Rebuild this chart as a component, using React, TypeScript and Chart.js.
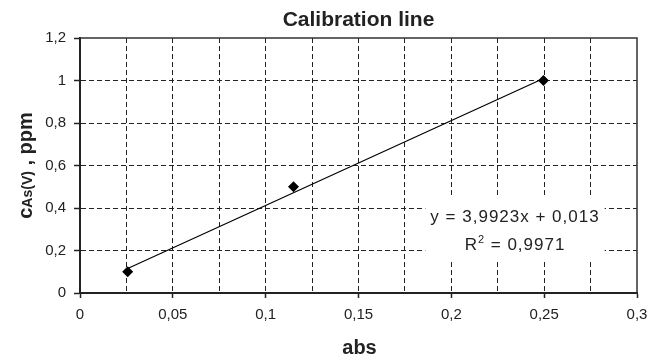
import React, { useEffect, useRef } from 'react';
import { Chart, registerables } from 'chart.js';

Chart.register(...registerables);

// ---- data ----
const absValues = [0.0257, 0.115, 0.2496];
const concValues = [0.1, 0.5, 1.0];
const trendSlope = 3.9923;
const trendIntercept = 0.013;
const trendR2 = 0.9971;
const xRange = [0, 0.3];
const xStep = 0.025;
const yRange = [0, 1.2];
const yStep = 0.2;
const chartTitle = 'Calibration line';
const xTitle = 'abs';
const yTitleParts = ['c', 'As(V)', ' , ppm'];

const FONT = '"Liberation Sans", Arial, Helvetica, sans-serif';
const INK = '#222';
const CLEAR = 'rgba(0,0,0,0)';

const fmt = (v: number, d = 3) => String(parseFloat(v.toFixed(d))).replace('.', ',');

const trendX = [Math.min(...absValues), Math.max(...absValues)];
const trendY = trendX.map((x) => trendSlope * x + trendIntercept);

const eqLine1 = `y = ${fmt(trendSlope, 4)}x + ${fmt(trendIntercept, 4)}`;
const eqLine2Pre = 'R';
const eqLine2Sup = '2';
const eqLine2Post = ` = ${fmt(trendR2, 4)}`;

const decorPlugin = {
  id: 'decor',
  beforeDatasetsDraw(chart: any) {
    const { ctx, chartArea: a, scales } = chart;
    const xs = scales.x;
    const ys = scales.y;
    ctx.save();
    // top & right frame
    ctx.strokeStyle = '#333';
    ctx.lineWidth = 1.5;
    ctx.beginPath();
    ctx.moveTo(a.left, a.top);
    ctx.lineTo(a.right, a.top);
    ctx.lineTo(a.right, a.bottom);
    ctx.stroke();

    // trendline equation label
    const cx = xs.getPixelForValue(0.2343);
    const b1 = ys.getPixelForValue(0.3355);
    const b2 = b1 + 28.3;
    ctx.font = `17px ${FONT}`;
    (ctx as any).letterSpacing = '1px';
    const w1 = ctx.measureText(eqLine1).width;
    const wPre = ctx.measureText(eqLine2Pre).width;
    const wPost = ctx.measureText(eqLine2Post).width;
    ctx.font = `11px ${FONT}`;
    const wSup = ctx.measureText(eqLine2Sup).width;
    const w2 = wPre + wSup + wPost;

    ctx.fillStyle = '#fff';
    const bw = w1 + 10;
    ctx.fillRect(cx - bw / 2, b1 - 24, bw, b2 - b1 + 36);

    ctx.fillStyle = INK;
    ctx.textBaseline = 'alphabetic';
    ctx.textAlign = 'left';
    ctx.font = `17px ${FONT}`;
    ctx.fillText(eqLine1, cx - w1 / 2, b1);
    let px = cx - w2 / 2;
    ctx.fillText(eqLine2Pre, px, b2);
    px += wPre;
    ctx.font = `11px ${FONT}`;
    ctx.fillText(eqLine2Sup, px, b2 - 7);
    px += wSup;
    ctx.font = `17px ${FONT}`;
    ctx.fillText(eqLine2Post, px, b2);
    (ctx as any).letterSpacing = '0px';
    ctx.restore();
  },
  afterDraw(chart: any) {
    const { ctx, chartArea: a } = chart;
    ctx.save();
    ctx.fillStyle = INK;
    ctx.textBaseline = 'alphabetic';
    // x-axis title
    ctx.font = `bold 20px ${FONT}`;
    ctx.textAlign = 'center';
    ctx.fillText(xTitle, (a.left + a.right) / 2 + 1, 354);

    // y-axis title (rotated, with smaller "As(V)")
    const fonts = [`bold 20px ${FONT}`, `bold 14px ${FONT}`, `bold 20px ${FONT}`];
    const widths = yTitleParts.map((t, i) => {
      ctx.font = fonts[i];
      return ctx.measureText(t).width;
    });
    const total = widths.reduce((s, w) => s + w, 0);
    ctx.translate(32, (a.top + a.bottom) / 2);
    ctx.rotate(-Math.PI / 2);
    ctx.textAlign = 'left';
    let x = -total / 2;
    yTitleParts.forEach((t, i) => {
      ctx.font = fonts[i];
      ctx.fillText(t, x, 0);
      x += widths[i];
    });
    ctx.restore();
  },
};

export default function App() {
  const canvasRef = useRef<HTMLCanvasElement | null>(null);

  useEffect(() => {
    document.body.style.margin = '0';
    const canvas = canvasRef.current;
    if (!canvas) return;
    const chart = new Chart(canvas, {
      type: 'scatter',
      data: {
        datasets: [
          {
            label: 'trend',
            type: 'line',
            data: trendX.map((x, i) => ({ x, y: trendY[i] })),
            borderColor: '#000',
            borderWidth: 1.2,
            pointRadius: 0,
            fill: false,
          } as any,
          {
            label: 'points',
            data: absValues.map((x, i) => ({ x, y: concValues[i] })),
            pointStyle: 'rectRot',
            pointRadius: 5.5,
            backgroundColor: '#000',
            borderColor: '#000',
            borderWidth: 0,
            showLine: false,
          },
        ],
      },
      options: {
        responsive: false,
        animation: false,
        devicePixelRatio: 1,
        layout: { padding: { left: 0, right: 21, top: 0, bottom: 0 } },
        plugins: {
          legend: { display: false },
          tooltip: { enabled: false },
          title: {
            display: true,
            text: chartTitle,
            fullSize: false,
            color: INK,
            font: { family: FONT, size: 21, weight: 'bold', lineHeight: 1.2 },
            padding: { top: 7.5, bottom: 5.3 },
          },
        },
        scales: {
          x: {
            type: 'linear',
            min: xRange[0],
            max: xRange[1],
            afterFit: (s: any) => {
              s.height = 66;
            },
            ticks: {
              stepSize: xStep,
              autoSkip: false,
              maxRotation: 0,
              padding: 8,
              color: INK,
              font: { family: FONT, size: 15 },
              callback: (v: any, i: number) => (i % 2 === 0 ? fmt(Number(v)) : ''),
            },
            grid: {
              color: (c: any) => (c.index === 0 || c.index === 12 ? CLEAR : INK),
              lineWidth: 1,
              tickColor: (c: any) => (c.index % 2 === 0 ? INK : CLEAR),
              tickLength: 5,
              tickWidth: 1.5,
            },
            border: { display: true, color: INK, width: 2, dash: [5, 3] },
          },
          y: {
            type: 'linear',
            min: yRange[0],
            max: yRange[1],
            afterFit: (s: any) => {
              s.width = 80;
            },
            ticks: {
              stepSize: yStep,
              padding: 8,
              color: INK,
              font: { family: FONT, size: 15 },
              callback: (v: any) => fmt(Number(v)),
            },
            grid: {
              color: (c: any) => (c.index === 0 || c.index === 6 ? CLEAR : INK),
              lineWidth: 1,
              tickColor: INK,
              tickLength: 6,
              tickWidth: 1.5,
            },
            border: { display: true, color: INK, width: 2, dash: [5, 3] },
          },
        },
      } as any,
      plugins: [decorPlugin],
    });
    return () => chart.destroy();
  }, []);

  return (
    <div style={{ width: 658, height: 359 }}>
      <canvas ref={canvasRef} width={658} height={359} style={{ display: 'block' }} />
    </div>
  );
}
